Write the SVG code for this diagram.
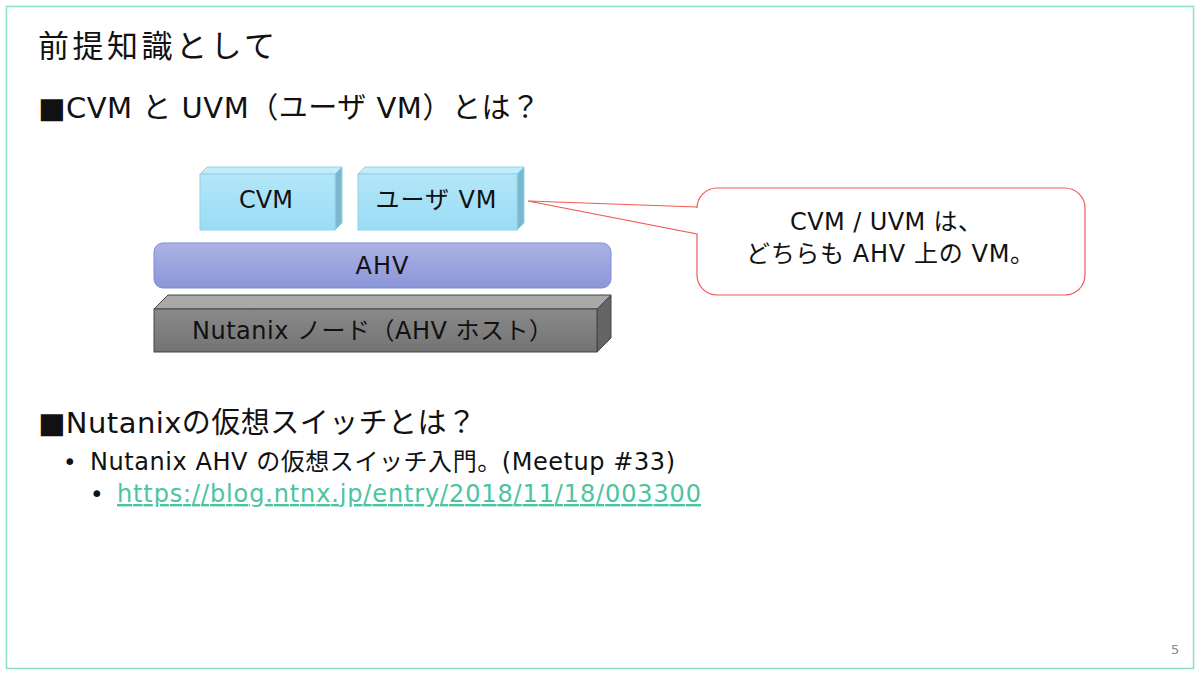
<svg xmlns="http://www.w3.org/2000/svg" width="1200" height="675" viewBox="0 0 1200 675">
<defs>
<style>
.t{font-family:"DejaVu Sans","Noto Sans CJK JP",sans-serif;fill:#111}
.c{text-anchor:middle}
</style>
<linearGradient id="gAhv" x1="0" y1="0" x2="0" y2="1"><stop offset="0" stop-color="#acb2e4"/><stop offset="1" stop-color="#8b96d9"/></linearGradient>
<linearGradient id="gVm" x1="0" y1="0" x2="0" y2="1"><stop offset="0" stop-color="#b3e6f8"/><stop offset="1" stop-color="#99dcf5"/></linearGradient>
<linearGradient id="gNode" x1="0" y1="0" x2="0" y2="1"><stop offset="0" stop-color="#8a8a8a"/><stop offset="1" stop-color="#737373"/></linearGradient>
</defs>
<rect width="1200" height="675" fill="#fff"/>
<rect x="6.5" y="6.5" width="1187" height="662" fill="none" stroke="#8fdfc8" stroke-width="1.5"/>
<text class="t" x="38" y="57" font-size="31" textLength="237" lengthAdjust="spacing">前提知識として</text>
<text class="t" x="38" y="118" font-size="29" textLength="502" lengthAdjust="spacing">■CVM と UVM（ユーザ VM）とは？</text>

<g id="node-host">
<polygon points="154,309 168,295 611,295 597,309" fill="#a9a9a9" stroke="#444" stroke-width="1"/>
<polygon points="597,309 611,295 611,338 597,352" fill="#656565" stroke="#444" stroke-width="1"/>
<rect x="154" y="309" width="443" height="43" fill="url(#gNode)" stroke="#444" stroke-width="1"/>
<text class="t" x="192" y="339" font-size="24" textLength="361" lengthAdjust="spacing">Nutanix ノード（AHV ホスト）</text>
</g>
<g id="node-ahv">
<rect x="154" y="243" width="457" height="45" rx="9" fill="url(#gAhv)" stroke="#7f8bd6" stroke-width="1"/>
<text class="t c" x="382" y="274" font-size="24" textLength="53" lengthAdjust="spacing">AHV</text>
</g>
<g id="node-cvm">
<polygon points="200,174 207,167 342,167 335,174" fill="#c2ecfa" stroke="#8fd3ea" stroke-width="1"/>
<polygon points="335,174 342,167 342,223 335,230" fill="#7bb8cd" stroke="#8fd3ea" stroke-width="1"/>
<rect x="200" y="174" width="135" height="56" fill="url(#gVm)" stroke="#8fd3ea" stroke-width="1"/>
<text class="t c" x="266" y="208" font-size="24" textLength="54" lengthAdjust="spacing">CVM</text>
</g>
<g id="node-uvm">
<polygon points="358,174 365,167 524,167 517,174" fill="#c2ecfa" stroke="#8fd3ea" stroke-width="1"/>
<polygon points="517,174 524,167 524,223 517,230" fill="#7bb8cd" stroke="#8fd3ea" stroke-width="1"/>
<rect x="358" y="174" width="159" height="56" fill="url(#gVm)" stroke="#8fd3ea" stroke-width="1"/>
<text class="t c" x="436" y="208" font-size="24" textLength="121" lengthAdjust="spacing">ユーザ VM</text>
</g>
<g id="node-callout">
<path d="M717,188 H1065 A20,20 0 0 1 1085,208 V275 A20,20 0 0 1 1065,295 H717 A20,20 0 0 1 697,275 V234 L528,201 L697,207 V208 A20,20 0 0 1 717,188 Z" fill="#fff" stroke="#ee5a50" stroke-width="1.2"/>
<text class="t" x="790" y="230" font-size="24" textLength="192" lengthAdjust="spacing">CVM / UVM は、</text>
<text class="t" x="746" y="262" font-size="24" textLength="288" lengthAdjust="spacing">どちらも AHV 上の VM。</text>
</g>
<g id="connectors"></g>

<text class="t" x="38" y="433" font-size="29" textLength="438" lengthAdjust="spacing">■Nutanixの仮想スイッチとは？</text>
<text class="t" x="63" y="470" font-size="23">•</text>
<text class="t" x="90" y="470" font-size="24" textLength="585" lengthAdjust="spacing">Nutanix AHV の仮想スイッチ入門。(Meetup #33)</text>
<text class="t" x="90" y="502" font-size="23">•</text>
<text class="t" x="117" y="502" font-size="24" style="fill:#4cc4a0" text-decoration="underline" textLength="584" lengthAdjust="spacing">https://blog.ntnx.jp/entry/2018/11/18/003300</text>
<text class="t" x="1171" y="654" font-size="13" style="fill:#888">5</text>
</svg>
